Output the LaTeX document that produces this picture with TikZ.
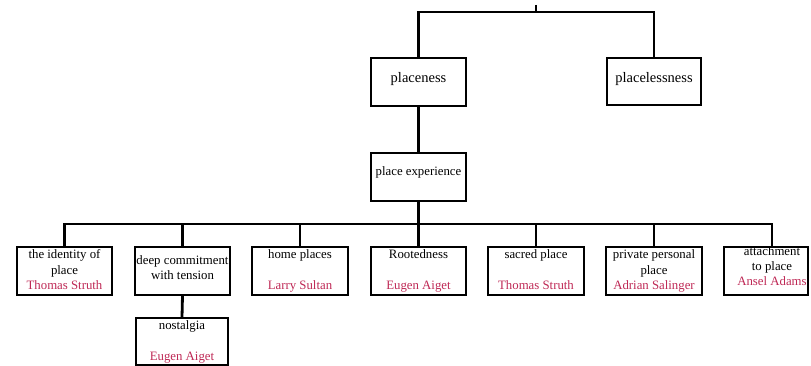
\documentclass[tikz,border=0pt]{standalone}
\usepackage{fontspec}
\setmainfont{Liberation Serif}
\definecolor{namered}{RGB}{190,40,85}
\tikzset{
  box/.style={draw=black, line width=1.3pt, rectangle, inner sep=0pt},
  conn/.style={draw=black, line width=2.8pt},
  lbl/.style={inner sep=0pt, anchor=mid, text=black, font=\fontsize{12.8}{15}\selectfont},
  biglbl/.style={inner sep=0pt, anchor=mid, text=black, font=\fontsize{14.5}{17}\selectfont},
  nm/.style={lbl, text=namered}
}
\begin{document}
\begin{tikzpicture}[x=1pt,y=-1pt]
\useasboundingbox (0,0) rectangle (811,366);
% boxes
\node[box, minimum width=95pt, minimum height=48pt] (placeness) at (418.5,82) {};
\node[box, minimum width=94pt, minimum height=47pt] (placelessness) at (654,81.5) {};
\node[box, minimum width=95pt, minimum height=48pt] (pexp) at (418.5,177) {};
\node[box, minimum width=95pt, minimum height=48pt] (b1) at (64.5,271) {};
\node[box, minimum width=95pt, minimum height=48pt] (b2) at (182.5,271) {};
\node[box, minimum width=96pt, minimum height=48pt] (b3) at (300,271) {};
\node[box, minimum width=95pt, minimum height=48pt] (b4) at (418.5,271) {};
\node[box, minimum width=96pt, minimum height=48pt] (b5) at (536,271) {};
\node[box, minimum width=96pt, minimum height=48pt] (b6) at (654,271) {};
\node[box, minimum width=84pt, minimum height=48pt] (b7) at (766,271) {};
\node[box, minimum width=92pt, minimum height=47pt] (nost) at (182,341.5) {};
% coordinates
\coordinate (topj) at (536,12);
\coordinate (toptick) at (536,5);
\coordinate (bus) at (418.5,224);
\coordinate (b7top) at (772,247);
% connectors
\draw[conn] (toptick) -- (topj);
\draw[conn] (placeness.north) |- (topj) -| (placelessness.north);
\draw[conn] (placeness.south) -- (pexp.north);
\draw[conn] (pexp.south) -- (bus);
\draw[conn] (b1.north) |- (bus) -| (b7top);
\draw[conn] (b2.north) -- (b2.north |- bus);
\draw[conn] (b3.north) -- (b3.north |- bus);
\draw[conn] (b4.north) -- (b4.north |- bus);
\draw[conn] (b5.north) -- (b5.north |- bus);
\draw[conn] (b6.north) -- (b6.north |- bus);
\draw[conn] (b2.south) -- (nost.north);
% labels
\node[biglbl] (t0) at (418.5,80) {placeness};
\node[biglbl] (t00) at (654,80) {placelessness};
\node[lbl] (tpe) at (418.5,173) {place experience};
\node[lbl] (t1a) at (64.5,256) {the identity of};
\node[lbl] (t1b) at (64.5,272) {place};
\node[nm] (t1c) at (64.5,287) {Thomas Struth};
\node[lbl] (t2a) at (182.5,262) {deep commitment};
\node[lbl] (t2b) at (182.5,277) {with tension};
\node[lbl] (t3a) at (300,256) {home places};
\node[nm] (t3c) at (300,287) {Larry Sultan};
\node[lbl] (t4a) at (418.5,256) {Rootedness};
\node[nm] (t4c) at (418.5,287) {Eugen Aiget};
\node[lbl] (t5a) at (536,256) {sacred place};
\node[nm] (t5c) at (536,287) {Thomas Struth};
\node[lbl] (t6a) at (654,256) {private personal};
\node[lbl] (t6b) at (654,272) {place};
\node[nm] (t6c) at (654,287) {Adrian Salinger};
\node[lbl] (t7a) at (772,253) {attachment};
\node[lbl] (t7b) at (772,268) {to place};
\node[nm] (t7c) at (772,283) {Ansel Adams};
\node[lbl] (tna) at (182,327) {nostalgia};
\node[nm] (tnc) at (182,358) {Eugen Aiget};
\end{tikzpicture}
\end{document}
